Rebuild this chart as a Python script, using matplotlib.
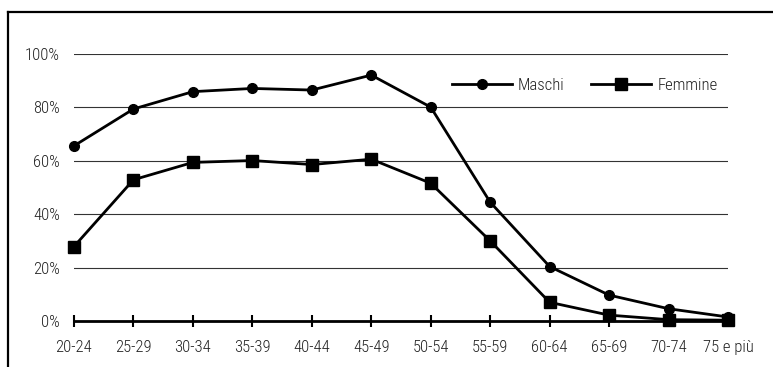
import matplotlib
matplotlib.use("Agg")
import matplotlib.pyplot as plt
from matplotlib import font_manager
from matplotlib.lines import Line2D

categories = ["20-24", "25-29", "30-34", "35-39", "40-44", "45-49",
              "50-54", "55-59", "60-64", "65-69", "70-74", "75 e più"]
maschi = [65.6, 79.4, 85.9, 87.1, 86.5, 92.1, 80.1, 44.5, 20.4, 9.7, 4.6, 1.5]
femmine = [27.9, 52.9, 59.4, 60.1, 58.6, 60.6, 51.6, 30.0, 7.0, 2.2, 0.5, 0.3]
yticks = [0, 20, 40, 60, 80, 100]
ytick_labels = ["0%", "20%", "40%", "60%", "80%", "100%"]

names = {f.name for f in font_manager.fontManager.ttflist}
fam = next((n for n in ["Roboto Condensed", "Archivo Narrow", "PT Sans Narrow",
                        "Liberation Sans"] if n in names), "DejaVu Sans")
plt.rcParams["font.family"] = [fam, "DejaVu Sans"]
plt.rcParams["font.weight"] = "light"
FS = 12
TXT = "#222222"

W, H = 773, 367
fig = plt.figure(figsize=(W / 100, H / 100), dpi=100)

# outer frame (left and top lines)
fig.add_artist(Line2D([8 / W, 8 / W], [0, 1 - 12 / H], color="black", lw=1.6,
                      transform=fig.transFigure))
fig.add_artist(Line2D([8 / W, 1], [1 - 12 / H, 1 - 12 / H], color="black", lw=1.6,
                      transform=fig.transFigure))

left, right = 74 / W, 728 / W
bottom, top = 1 - 321 / H, 1 - 54 / H
ax = fig.add_axes([left, bottom, right - left, top - bottom])

x = list(range(len(categories)))
ax.set_xlim(0, len(categories) - 1)
ax.set_ylim(0, 100)

for v in yticks[1:]:
    ax.axhline(v, color="#333333", lw=0.8, zorder=1)

ax.plot(x, maschi, color="black", lw=2, marker="o", markersize=7,
        clip_on=False, zorder=4, label="Maschi")
ax.plot(x, femmine, color="black", lw=2, marker="s", markersize=8,
        clip_on=False, zorder=4, label="Femmine")

for s in ["top", "right", "left"]:
    ax.spines[s].set_visible(False)
ax.spines["bottom"].set_linewidth(2)
ax.spines["bottom"].set_zorder(3)

ax.set_xticks(x)
ax.set_xticklabels(categories, fontsize=FS, color=TXT)
ax.tick_params(axis="x", direction="inout", length=8, width=1.5, pad=10)
ax.set_yticks(yticks)
ax.set_yticklabels(ytick_labels, fontsize=FS, color=TXT)
ax.tick_params(axis="y", length=0, pad=10)

leg = ax.legend(loc="center left",
                bbox_to_anchor=((452 - 74) / (728 - 74), (321 - 85) / (321 - 54)),
                ncol=2, frameon=False, fontsize=FS, handlelength=3.6,
                handletextpad=0.36, columnspacing=1.6, borderaxespad=0, borderpad=0)
for t in leg.get_texts():
    t.set_color(TXT)

fig.savefig("out.png", dpi=100)
